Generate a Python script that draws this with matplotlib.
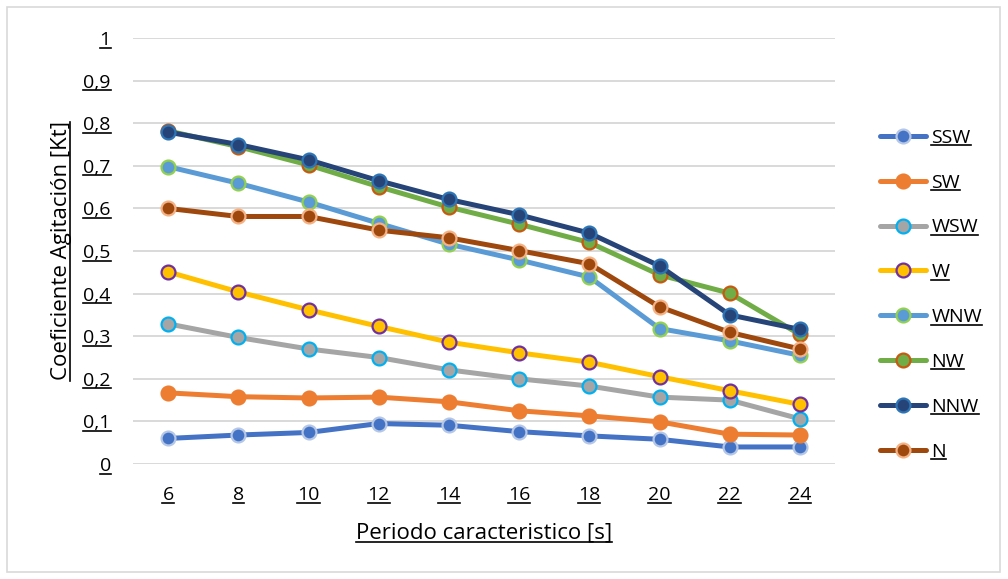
import matplotlib
matplotlib.use("Agg")
import matplotlib.pyplot as plt
from matplotlib.lines import Line2D
from matplotlib.patches import Rectangle

plt.rcParams["font.family"] = ["Open Sans", "DejaVu Sans"]

periods = ["6", "8", "10", "12", "14", "16", "18", "20", "22", "24"]
y_ticks = [0, 0.1, 0.2, 0.3, 0.4, 0.5, 0.6, 0.7, 0.8, 0.9, 1]
y_tick_labels = ["0", "0,1", "0,2", "0,3", "0,4", "0,5", "0,6", "0,7", "0,8", "0,9", "1"]

ssw = [0.060, 0.068, 0.074, 0.095, 0.091, 0.076, 0.066, 0.058, 0.040, 0.040]
sw = [0.167, 0.158, 0.155, 0.157, 0.146, 0.125, 0.113, 0.099, 0.070, 0.068]
wsw = [0.329, 0.297, 0.270, 0.250, 0.221, 0.200, 0.183, 0.157, 0.150, 0.106]
w = [0.451, 0.404, 0.362, 0.323, 0.286, 0.261, 0.239, 0.205, 0.172, 0.140]
wnw = [0.698, 0.659, 0.615, 0.565, 0.516, 0.479, 0.439, 0.318, 0.289, 0.255]
nw = [0.782, 0.745, 0.702, 0.651, 0.603, 0.563, 0.520, 0.444, 0.401, 0.304]
nnw = [0.779, 0.750, 0.714, 0.665, 0.621, 0.585, 0.542, 0.465, 0.350, 0.316]
n = [0.600, 0.581, 0.581, 0.549, 0.531, 0.501, 0.470, 0.369, 0.309, 0.270]

series = [
    ("SSW", ssw, "#4472C4", "#4472C4", "#B4C7E7"),
    ("SW", sw, "#ED7D31", "#ED7D31", "#ED7D31"),
    ("WSW", wsw, "#A5A5A5", "#A5A5A5", "#00B0F0"),
    ("W", w, "#FFC000", "#FFC000", "#7030A0"),
    ("WNW", wnw, "#5B9BD5", "#5B9BD5", "#92D050"),
    ("NW", nw, "#70AD47", "#70AD47", "#C55A11"),
    ("NNW", nnw, "#264478", "#264478", "#2E75B6"),
    ("N", n, "#9E480E", "#9E480E", "#F4B183"),
]

W_PX, H_PX = 1008, 579
fig = plt.figure(figsize=(W_PX / 100, H_PX / 100), dpi=100)
fig.patches.append(Rectangle((7 / W_PX, 7 / H_PX), 993 / W_PX, 565 / H_PX,
                             transform=fig.transFigure, fill=False,
                             edgecolor="#D9D9D9", linewidth=1.2))
ax = fig.add_axes([133 / W_PX, 1 - 464 / H_PX, 702 / W_PX, 426 / H_PX])

x = list(range(len(periods)))
handles = []
for name, vals, lc, fc, ec in series:
    h, = ax.plot(x, vals, color=lc, linewidth=3.6, marker="o", markersize=10,
                 markerfacecolor=fc, markeredgecolor=ec, markeredgewidth=1.6,
                 label=name, solid_capstyle="round", zorder=3)
    handles.append(h)

ax.set_xlim(-0.5, len(periods) - 0.5)
ax.set_ylim(0, 1)
ax.set_xticks(x)
ax.set_xticklabels(periods)
ax.set_yticks(y_ticks)
ax.set_yticklabels(y_tick_labels)
ax.tick_params(length=0, labelsize=14)
ax.tick_params(axis="y", pad=16)
ax.tick_params(axis="x", pad=16)
ax.grid(axis="y", color="#D9D9D9", linewidth=1.4)
for s in ax.spines.values():
    s.set_visible(False)

ax.set_ylabel("Coeficiente Agitación [Kt]", fontsize=16)
ax.yaxis.set_label_coords(-0.0875, 0.5)
ax.set_xlabel("Periodo caracteristico [s]", fontsize=16, labelpad=13)

leg = fig.legend(handles=handles, loc="upper left",
                 bbox_to_anchor=(872 / W_PX, 1 - 121 / H_PX),
                 frameon=False, fontsize=14, handlelength=2.4,
                 labelspacing=1.38, handletextpad=0.25, borderaxespad=0)

# underline every text element
fig.canvas.draw()
renderer = fig.canvas.get_renderer()
texts = (ax.get_xticklabels() + ax.get_yticklabels()
         + [ax.xaxis.label] + leg.get_texts())
for t in texts:
    if not t.get_text():
        continue
    bb = t.get_window_extent(renderer)
    yy = (bb.y0 + 1.5) / H_PX
    fig.add_artist(Line2D([bb.x0 / W_PX, bb.x1 / W_PX], [yy, yy],
                          transform=fig.transFigure, color="black", linewidth=1.2))
yl = ax.yaxis.label
bb = yl.get_window_extent(renderer)
xx = (bb.x1 - 1.5) / W_PX
fig.add_artist(Line2D([xx, xx], [bb.y0 / H_PX, bb.y1 / H_PX],
                      transform=fig.transFigure, color="black", linewidth=1.2))

fig.savefig("out.png", dpi=100)
